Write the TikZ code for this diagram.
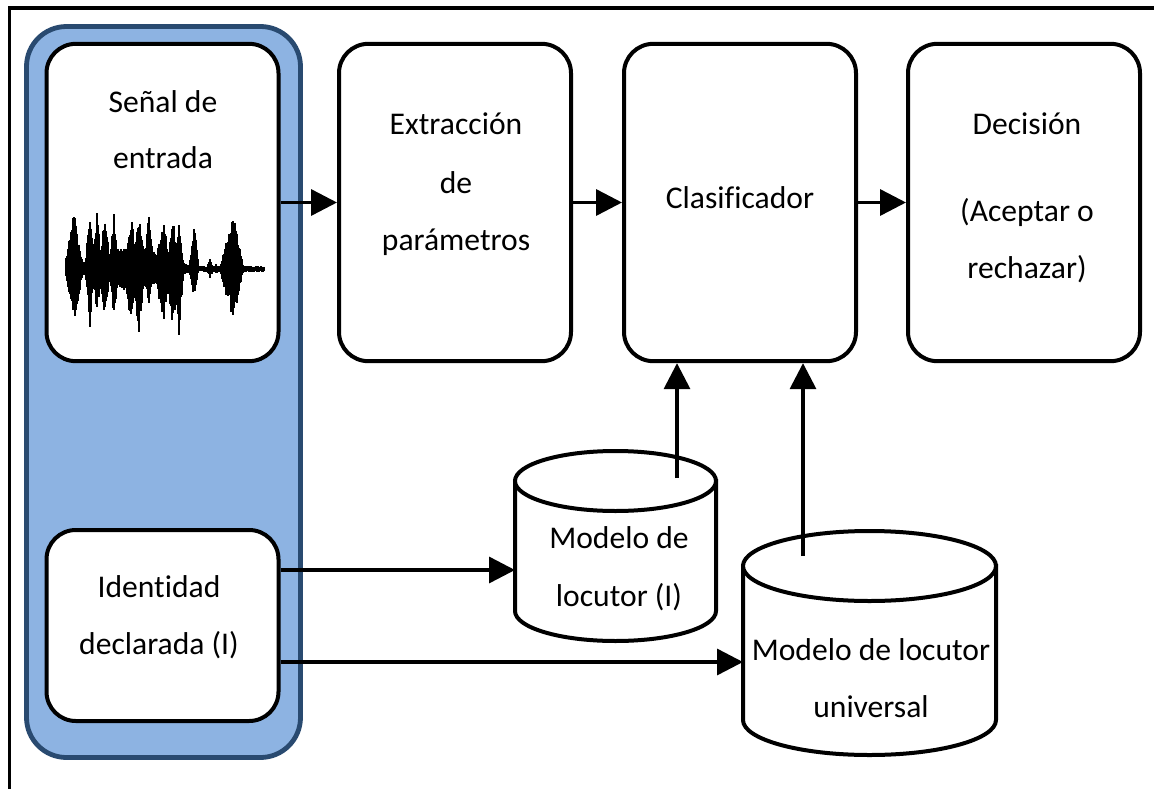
\documentclass[tikz,border=0pt]{standalone}
\usepackage{fontspec}
\setmainfont{Carlito}[Ligatures=NoCommon]
\usetikzlibrary{arrows.meta}
\definecolor{panelfill}{HTML}{8DB3E2}
\definecolor{panelborder}{HTML}{294A70}
\tikzset{
  box/.style={draw, line width=3pt, rounded corners=22pt, fill=white, inner sep=0pt,
              minimum width=174pt, minimum height=238pt},
  txt/.style={anchor=base, inner sep=0pt, font=\fontsize{23.7}{28}\selectfont},
  arr/.style={line width=2.6pt, -{Triangle[length=19.5pt,width=19.5pt]}},
  cyl/.style={draw, line width=3pt, fill=white},
  frame/.style={line width=2.6pt},
  wave/.style={line width=1.05pt, black}
}
\begin{document}
\begin{tikzpicture}[x=0.75pt,y=-0.75pt]
\useasboundingbox (0,0) rectangle (1154,789);
% outer frame (top and left visible)
\draw[frame] (1154,8) -- (9.5,8) -- (9.5,789);
% blue panel
\node[draw=panelborder, fill=panelfill, line width=3.6pt, rounded corners=30pt,
      inner sep=0pt, minimum width=205.5pt, minimum height=548.25pt] (panel) at (163.5,392) {};
% boxes
\node[box] (senal) at (162.5,202.5) {};
\node[box] (extr)  at (455,202.5) {};
\node[box] (clas)  at (740,202.5) {};
\node[box] (dec)   at (1024,202.5) {};
\node[box, minimum height=143.25pt] (ident) at (162.5,625.5) {};
% texts
\node[txt] (t1a) at (163,112) {Señal de};
\node[txt] (t1b) at (163,168) {entrada};
\node[txt] (t2a) at (456,134) {Extracción};
\node[txt] (t2b) at (456,193) {de};
\node[txt] (t2c) at (456,250) {parámetros};
\node[txt] (t3)  at (740,208) {Clasificador};
\node[txt] (t4a) at (1027,134) {Decisión};
\node[txt] (t4b) at (1027,221) {(Aceptar o};
\node[txt] (t4c) at (1027,278) {rechazar)};
\node[txt] (t5a) at (159,597) {Identidad};
\node[txt] (t5b) at (159,654) {declarada (I)};
% waveform
\draw[line width=1.5pt] (66,269) -- (265,269);
\foreach \i in {0,...,198} {
  \pgfmathsetmacro\xx{66+\i}
  \pgfmathsetmacro\eu{max(3, 26*(1-abs(\xx-132)/68), 57*(1-abs(\xx-74)/10), 66*(1-abs(\xx-90)/5),
     60*(1-abs(\xx-97)/5), 60*(1-abs(\xx-105)/6), 57*(1-abs(\xx-114)/5), 55*(1-abs(\xx-131)/8),
     57*(1-abs(\xx-139)/7), 60*(1-abs(\xx-149)/5), 50*(1-abs(\xx-163)/9), 52*(1-abs(\xx-173)/7),
     50*(1-abs(\xx-179)/5), 49*(1-abs(\xx-194)/5), 10*(1-abs(\xx-210)/4), 6*(1-abs(\xx-216)/3),
     59*(1-abs(\xx-233)/11), 32*(1-abs(\xx-226)/6))}
  \pgfmathsetmacro\ed{max(3, 26*(1-abs(\xx-132)/68), 54*(1-abs(\xx-74)/10), 60*(1-abs(\xx-90)/5),
     52*(1-abs(\xx-97)/5), 54*(1-abs(\xx-105)/6), 52*(1-abs(\xx-114)/5), 64*(1-abs(\xx-131)/8),
     70*(1-abs(\xx-139)/7), 42*(1-abs(\xx-149)/5), 57*(1-abs(\xx-163)/9), 64*(1-abs(\xx-173)/7),
     68*(1-abs(\xx-179)/5), 32*(1-abs(\xx-194)/5), 10*(1-abs(\xx-210)/4), 6*(1-abs(\xx-216)/3),
     54*(1-abs(\xx-233)/11), 30*(1-abs(\xx-226)/6))}
  \pgfmathsetmacro\up{\eu*(0.7+0.3*rnd)}
  \pgfmathsetmacro\dn{\ed*(0.65+0.35*rnd)}
  \draw[wave] (\xx,269-\up) -- (\xx,269+\dn);
}
% cylinder A: Modelo de locutor (I)
\path[cyl] (515,481) -- (515,611) arc[start angle=180,end angle=360,x radius=75.375pt,y radius=22.5pt] -- (716,481) -- cycle;
\draw[cyl] (615.5,481) ellipse [x radius=75.375pt, y radius=22.5pt];
\node[inner sep=0pt, minimum width=150.75pt, minimum height=120pt] (cylA) at (615.5,561) {};
\node[txt] (t6a) at (619,548) {Modelo de};
\node[txt] (t6b) at (619,606) {locutor (I)};
% cylinder B: Modelo de locutor universal
\path[cyl] (743,566) -- (743,720) arc[start angle=180,end angle=360,x radius=94.875pt,y radius=26.25pt] -- (996,566) -- cycle;
\draw[cyl] (869.5,566) ellipse [x radius=94.875pt, y radius=26.25pt];
\node[inner sep=0pt, minimum width=189.75pt, minimum height=168pt] (cylB) at (869.5,643) {};
\node[txt] (t7a) at (871,660) {Modelo de locutor};
\node[txt] (t7b) at (871,717) {universal};
% connection points
\coordinate (cylAin) at (515,570);
\coordinate (cylBin) at (743,662);
\coordinate (cylAup) at (677,478);
\coordinate (cylBup) at (803,556);
% arrows
\draw[arr] (senal.east) -- (extr.west);
\draw[arr] (extr.east) -- (clas.west);
\draw[arr] (clas.east) -- (dec.west);
\draw[arr] (ident.east |- cylAin) -- (cylAin);
\draw[arr] (ident.east |- cylBin) -- (cylBin);
\draw[arr] (cylAup) -- (cylAup |- clas.south);
\draw[arr] (cylBup) -- (cylBup |- clas.south);
\end{tikzpicture}
\end{document}
